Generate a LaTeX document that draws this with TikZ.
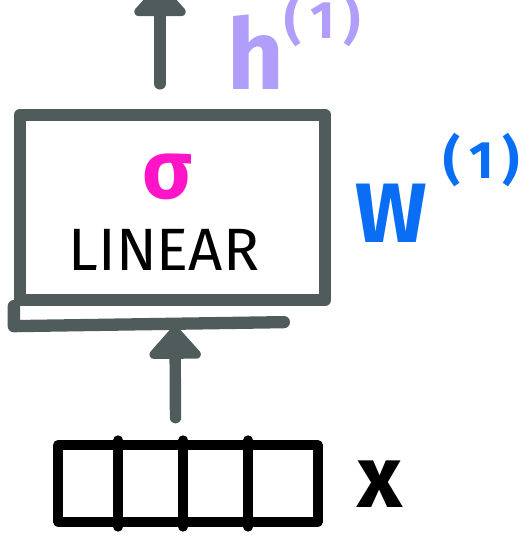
\documentclass[tikz,border=0pt]{standalone}
\usepackage{fontspec}
\setmainfont{Fira Sans}
\usetikzlibrary{arrows.meta}
\definecolor{sketchgray}{RGB}{80,92,92}
\definecolor{hlav}{RGB}{176,158,250}
\definecolor{sigpink}{RGB}{255,20,200}
\definecolor{wblue}{RGB}{10,110,245}

\begin{document}
\begin{tikzpicture}[x=1cm,y=1cm,box/.style={draw=sketchgray,line width=7pt,line join=round,minimum width=6.1cm,minimum height=3.7cm},arr/.style={-{Triangle[length=7mm,width=12mm,round]},line width=6.5pt,draw=sketchgray,line cap=round},cell/.style={draw=black,line width=5.5pt,line cap=round,line join=round}]

\useasboundingbox (0,0) rectangle (10.58,10.72);
\node[box] (lin) at (3.45,6.57) {};
\draw[draw=sketchgray,line width=7pt,line cap=round,line join=round] (lin.south west) -- ++(0,-0.4) -- ++(5.4,0.08);
\node[font=\bfseries\fontsize{47}{47}\selectfont,text=sigpink] (sig) at (3.35,7.18) {σ};
\node[font=\fontsize{34}{34}\selectfont] (lintext) at (3.28,5.72) {LINEAR};
\node[anchor=base west,inner sep=0pt,text=hlav,font=\bfseries\fontsize{56}{56}\selectfont] (hlab) at (4.55,8.92) {h\raisebox{0.52em}{\fontsize{30}{30}\selectfont(\,1\,)}};
\node[anchor=base west,inner sep=0pt,text=wblue,font=\bfseries\fontsize{48}{48}\selectfont] (wlab) at (7.1,5.86) {W\kern0.2em\raisebox{0.76em}{\fontsize{30}{30}\selectfont(\,1\,)}};
\coordinate (hout) at (3.2,11.05);
\draw[arr] ([xshift=-0.25cm,yshift=0.5cm]lin.north) -- (hout);
\node[cell,minimum width=5.2cm,minimum height=1.54cm] (vec) at (3.76,1.05) {};
\foreach \i in {1,2,3}
  \draw[cell] ([xshift=\i*1.3cm]vec.north west) -- ([xshift=\i*1.3cm]vec.south west);
\draw[arr] ([xshift=-0.25cm,yshift=0.45cm]vec.north) -- ([xshift=0.05cm,yshift=-0.4cm]lin.south);
\node[anchor=base,inner sep=0pt,font=\bfseries\fontsize{50}{50}\selectfont] (xlab) at (7.6,0.56) {x};
\end{tikzpicture}
\end{document}
